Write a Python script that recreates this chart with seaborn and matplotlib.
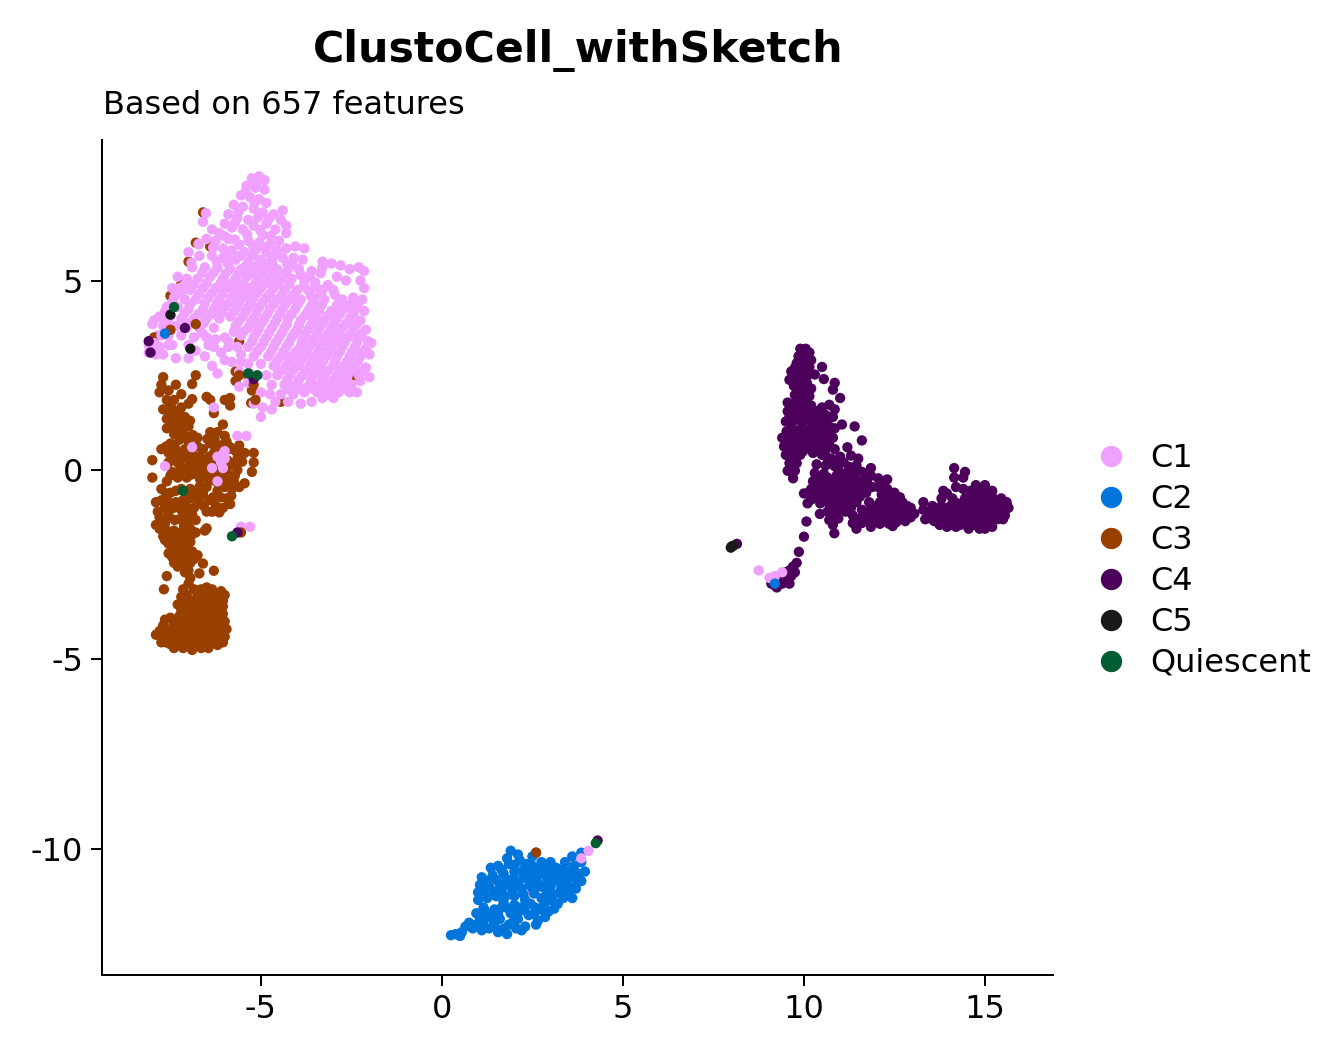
import matplotlib
matplotlib.use("Agg")
import matplotlib.pyplot as plt
import pandas as pd
import seaborn as sns
from matplotlib.lines import Line2D

c3_under = [(-6.6,6.8),(-6.8,6.0),(-7.0,5.5),(-7.2,4.9),(-6.4,5.9),(-5.6,3.4),(-2.4,2.5),(-7.5,4.6)]
c1_low = [(2.5,-11.16)]
c1_main = [
(-5.25,7.7),(-5.05,7.75),(-4.9,7.65),(-5.4,7.5),(-5.15,7.45),(-4.9,7.4),(-5.55,7.25),(-5.3,7.2),(-5.05,7.15),(-4.85,7.05),
(-5.75,7.0),(-5.5,6.95),(-5.2,6.9),(-4.95,6.8),(-4.65,6.75),(-4.4,6.85),(-5.9,6.75),(-5.65,6.65),(-5.35,6.6),(-4.45,6.6),
(-6.0,6.5),(-5.8,6.4),(-5.5,6.35),(-5.2,6.45),(-4.85,6.5),(-4.6,6.35),(-6.35,6.35),(-6.15,6.25),(-4.95,6.2),(-4.3,6.45),(-4.3,6.25),
(-6.5,6.1),(-6.25,6.05),(-5.9,6.1),(-5.6,5.95),(-5.35,6.05),(-5.05,6.0),(-4.75,5.95),(-4.5,6.05),(-6.05,5.85),(-5.8,5.8),(-5.45,5.75),
(-5.15,5.8),(-4.85,5.75),(-4.55,5.8),(-4.3,5.85),(-4.05,5.9),(-3.8,5.85),(-6.7,5.65),(-6.35,5.65),(-6.05,5.6),(-5.7,5.55),(-5.35,5.5),
(-5.0,5.55),(-4.7,5.55),(-4.4,5.6),(-4.1,5.6),(-3.85,5.55),(-3.3,5.5),(-3.05,5.45),(-2.8,5.4),(-2.55,5.3),(-2.3,5.35),(-2.15,5.25),
(-6.9,5.35),(-6.55,5.35),(-6.2,5.35),(-5.85,5.3),(-5.55,5.3),(-5.2,5.3),(-4.85,5.3),(-4.55,5.3),(-4.25,5.3),(-3.95,5.3),(-3.6,5.25),(-3.35,5.2),(-3.3,5.35),
(-7.05,5.05),(-6.75,5.05),(-6.4,5.1),(-6.05,5.05),(-5.7,5.05),(-5.4,5.1),(-5.1,5.05),(-4.75,5.05),(-4.45,5.05),(-4.15,5.05),(-3.8,5.0),(-3.5,4.95),(-2.9,5.1),(-2.65,5.0),(-2.25,5.0),(-2.15,4.8),
(-7.25,4.8),(-6.95,4.75),(-6.6,4.8),(-6.25,4.8),(-5.95,4.8),(-5.6,4.8),(-5.3,4.8),(-5.0,4.8),(-4.65,4.8),(-4.35,4.75),(-4.0,4.75),(-3.7,4.75),(-3.3,4.75),(-3.0,4.75),
(-7.4,4.55),(-7.1,4.5),(-6.8,4.5),(-6.45,4.55),(-6.15,4.5),(-5.8,4.55),(-5.5,4.55),(-5.2,4.55),(-4.85,4.55),(-4.55,4.5),(-4.2,4.5),(-3.9,4.5),(-3.55,4.45),(-3.25,4.5),(-2.75,4.5),(-2.45,4.55),(-2.2,4.5),
(-7.6,4.3),(-7.3,4.3),(-7.0,4.25),(-6.6,4.25),(-6.3,4.25),(-6.0,4.3),(-5.65,4.3),(-5.35,4.3),(-5.05,4.3),(-4.75,4.25),(-4.4,4.25),(-4.05,4.25),(-3.7,4.2),(-3.4,4.2),(-3.05,4.2),(-2.7,4.25),(-2.4,4.25),(-2.15,4.2),
(-7.8,4.05),(-7.5,4.05),(-7.2,4.0),(-6.85,4.0),(-6.5,4.0),(-6.15,4.0),(-5.85,4.05),(-5.5,4.05),(-5.2,4.0),(-4.9,4.0),(-4.55,4.0),(-4.25,4.0),(-3.9,3.95),(-3.55,3.95),(-3.25,3.95),(-2.9,4.0),(-2.55,4.0),(-2.25,3.95),
(-8.0,3.85),(-7.7,3.8),(-7.35,3.8),(-7.05,3.75),(-6.7,3.75),(-6.3,3.75),(-5.7,3.8),(-5.35,3.75),(-5.05,3.75),(-4.7,3.75),(-4.35,3.75),(-4.0,3.7),(-3.7,3.7),(-3.4,3.7),(-3.05,3.75),(-2.75,3.75),(-2.45,3.75),(-2.1,3.7),
(-7.85,3.55),(-7.55,3.55),(-7.2,3.55),(-6.85,3.5),(-6.5,3.5),(-6.0,3.5),(-5.55,3.55),(-5.2,3.5),(-4.85,3.5),(-4.5,3.5),(-4.15,3.5),(-3.85,3.45),(-3.55,3.45),(-3.2,3.5),(-2.9,3.5),(-2.6,3.5),(-2.3,3.5),(-2.05,3.4),
(-8.1,3.3),(-7.8,3.25),(-7.45,3.3),(-6.3,3.25),(-5.9,3.25),(-5.35,3.25),(-5.0,3.25),(-4.65,3.25),(-4.3,3.25),(-3.95,3.2),(-3.7,3.2),(-3.35,3.25),(-3.05,3.25),(-2.75,3.25),(-2.4,3.25),(-2.1,3.2),(-1.95,3.35),
(-8.1,3.1),(-7.7,3.05),(-6.55,3.0),(-5.55,3.05),(-5.2,3.0),(-4.8,3.0),(-4.45,3.0),(-4.15,3.0),(-3.85,2.95),(-3.5,3.0),(-3.2,3.0),(-2.9,3.0),(-2.55,3.0),(-2.25,3.0),(-2.0,3.05),
(-5.8,2.85),(-5.35,2.8),(-5.0,2.8),(-4.65,2.75),(-4.3,2.75),(-4.0,2.75),(-3.65,2.75),(-3.35,2.75),(-3.0,2.75),(-2.7,2.75),(-2.4,2.75),(-2.1,2.7),
(-6.35,2.75),(-6.2,2.55),(-5.6,2.6),(-5.3,2.55),(-4.85,2.5),(-4.55,2.5),(-4.2,2.5),(-3.85,2.5),(-3.55,2.5),(-3.25,2.5),(-2.9,2.5),(-2.6,2.5),(-2.3,2.5),(-2.0,2.45),
(-5.6,2.2),(-5.35,2.3),(-4.7,2.25),(-4.35,2.25),(-4.05,2.25),(-3.7,2.2),(-3.4,2.25),(-3.1,2.25),(-2.75,2.3),(-2.5,2.25),(-2.25,2.35),
(-5.0,2.05),(-4.75,2.0),(-4.45,2.0),(-4.1,2.0),(-3.8,2.05),(-3.45,2.05),(-3.15,2.0),(-2.85,2.05),(-2.55,2.05),(-2.35,2.05),
(-4.6,1.8),(-4.25,1.8),(-3.9,1.75),(-3.6,1.8),(-3.3,1.9),(-3.0,1.9),(-5.2,1.75),(-4.7,1.6),(-6.3,1.65),(-5.0,1.4),(-4.95,1.65),
(-5.4,0.9),(-6.9,0.6),(-6.2,-0.3),(-6.0,0.3),(-5.65,0.9),(-5.3,-1.5)
]
c1_extra = [
(-5.12,7.58),(-5.42,7.35),(-5.18,7.05),(-5.62,6.82),(-5.08,6.67),(-4.78,6.63),(-5.72,6.52),(-5.38,6.22),(-5.02,6.33),(-4.73,6.18),(-6.02,6.18),
(-5.72,6.08),(-5.22,5.92),(-4.92,5.88),(-4.62,5.68),(-5.92,5.7),(-5.58,5.65),(-5.22,5.66),(-4.88,5.45),(-4.28,5.46),(-6.22,5.5),(-5.92,5.45),(-5.42,5.38),(-5.08,5.42),(-4.68,5.42),(-4.12,5.42),
(-6.62,5.2),(-6.3,5.22),(-5.98,5.18),(-5.62,5.18),(-5.28,5.18),(-4.98,5.18),(-4.62,5.18),(-4.32,5.18),(-3.9,5.15),(-3.65,5.12),(-6.85,4.9),(-6.5,4.93),(-6.12,4.92),(-5.82,4.92),(-5.48,4.92),(-5.15,4.92),(-4.88,4.92),(-4.52,4.92),(-4.22,4.9),(-3.82,4.85),(-3.48,4.83),(-3.15,4.88),
(-7.2,4.65),(-6.7,4.65),(-6.35,4.68),(-6.05,4.65),(-5.72,4.68),(-5.4,4.68),(-5.1,4.68),(-4.75,4.65),(-4.42,4.62),(-4.1,4.63),(-3.62,4.6),(-3.35,4.62),(-2.95,4.62),(-2.55,4.35),(-2.32,4.38),
(-7.45,4.42),(-6.95,4.38),(-6.55,4.4),(-6.22,4.38),(-5.88,4.42),(-5.6,4.42),(-5.28,4.42),(-4.95,4.42),(-4.65,4.38),(-4.32,4.38),(-3.98,4.38),(-3.62,4.32),(-3.32,4.35),(-2.9,4.35),
(-7.65,4.18),(-7.12,4.12),(-6.72,4.12),(-6.38,4.12),(-6.08,4.15),(-5.75,4.18),(-5.42,4.18),(-5.12,4.15),(-4.82,4.12),(-4.48,4.12),(-4.15,4.12),(-3.78,4.08),(-3.48,4.08),(-3.15,4.08),(-2.82,4.12),(-2.45,4.12),
(-7.95,3.95),(-7.6,3.92),(-6.98,3.88),(-6.58,3.88),(-5.62,3.92),(-5.28,3.88),(-4.98,3.88),(-4.62,3.88),(-4.28,3.85),(-3.95,3.83),(-3.62,3.83),(-3.32,3.83),(-2.98,3.87),(-2.65,3.87),(-2.35,3.85),
(-7.5,3.67),(-6.62,3.62),(-5.48,3.65),(-5.12,3.62),(-4.78,3.62),(-4.42,3.62),(-4.08,3.6),(-3.78,3.58),(-3.45,3.58),(-3.12,3.62),(-2.82,3.62),(-2.5,3.62),(-2.22,3.6),
(-5.25,3.38),(-4.92,3.38),(-4.58,3.38),(-4.22,3.36),(-3.88,3.33),(-3.6,3.33),(-3.28,3.37),(-2.98,3.38),(-2.68,3.38),(-2.35,3.37),(-5.1,3.13),(-4.72,3.12),(-4.38,3.12),(-4.05,3.1),(-3.75,3.08),(-3.42,3.12),(-3.12,3.12),(-2.82,3.12),(-2.48,3.12),(-2.18,3.12),
(-4.55,2.88),(-4.22,2.88),(-3.92,2.85),(-3.58,2.87),(-3.28,2.87),(-2.95,2.87),(-2.62,2.87),(-2.32,2.87),(-4.45,2.62),(-4.12,2.62),(-3.78,2.62),(-3.45,2.62),(-3.15,2.62),(-2.82,2.62),(-2.5,2.62),(-2.22,2.6),
(-4.28,2.38),(-3.95,2.38),(-3.62,2.36),(-3.3,2.38),(-3.0,2.37),(-2.68,2.4),(-4.22,2.12),(-3.9,2.15),(-3.55,2.14),(-3.25,2.13),(-2.95,2.15),(-2.65,2.15),(-6.72,5.95),(-6.6,6.55),(-7.0,5.75),(-7.3,5.1),(-7.45,4.8),
(-5.75,3.65),(-5.9,3.4),(-6.25,3.45),(-6.1,3.1),(-6.0,2.9),(-6.45,3.3),(-6.8,3.15),(-7.0,2.95),(-5.55,2.85),(-5.65,3.25),
(-6.52,6.78),(-6.72,5.97),(-6.92,5.47),(-7.12,4.87),(-6.32,5.87)
]
c3_main = [
(-7.7,2.45),(-7.75,2.25),(-7.8,2.05),(-7.55,2.1),(-7.35,2.25),(-7.6,1.85),(-7.4,1.85),(-7.2,2.0),(-7.7,1.6),(-7.45,1.6),(-7.2,1.65),(-7.0,1.75),(-7.6,1.35),(-7.35,1.35),(-7.1,1.4),
(-6.9,2.27),(-6.8,2.5),(-6.9,1.87),(-6.5,1.93),(-6.4,1.85),(-6.0,1.85),(-5.85,1.9),(-5.85,1.7),(-5.27,1.77),(-5.25,2.1),(-5.7,2.6),(-5.7,2.35),(-5.35,2.5),(-4.45,1.8),
(-7.6,1.1),(-7.4,0.95),(-7.2,1.05),(-7.0,1.15),(-7.5,0.7),(-7.25,0.8),(-7.0,0.75),(-6.75,0.85),(-6.96,1.3),(-6.3,1.5),(-6.05,1.2),(-6.4,1.0),(-6.2,1.0),(-6.0,0.9),(-6.1,0.65),(-6.4,0.7),(-5.9,0.55),
(-7.75,0.55),(-7.55,0.45),(-7.3,0.45),(-7.1,0.55),(-6.9,0.45),(-6.6,0.55),(-6.3,0.45),(-6.05,0.35),(-5.85,0.6),(-5.6,0.65),(-5.45,0.45),(-5.65,0.3),(-5.2,0.45),(-5.2,0.2),(-5.25,-0.05),
(-8.0,0.26),(-7.55,0.2),(-7.3,0.2),(-7.05,0.3),(-6.8,0.2),(-6.55,0.25),(-6.3,0.15),(-6.05,0.1),(-5.8,0.15),(-7.05,0.05),(-8.0,-0.2),(-7.45,-0.05),(-7.6,-0.3),(-7.3,-0.2),(-7.05,-0.2),(-6.8,-0.1),(-6.55,-0.1),(-6.3,-0.15),(-6.1,-0.2),(-5.85,-0.15),(-5.65,0.0),(-5.45,-0.35),
(-7.75,-0.5),(-7.5,-0.6),(-7.2,-0.5),(-6.95,-0.5),(-6.7,-0.45),(-6.5,-0.45),(-6.2,-0.55),(-6.0,-0.45),(-5.8,-0.5),(-5.6,-0.45),(-5.95,-0.75),(-7.9,-0.85),(-7.75,-0.8),(-7.55,-0.85),(-7.35,-0.85),(-7.15,-0.8),(-6.95,-0.75),(-6.7,-0.7),(-6.45,-0.8),(-6.25,-0.95),(-6.05,-1.0),(-5.85,-0.9),
(-7.85,-1.1),(-7.6,-1.05),(-7.75,-1.3),(-7.9,-1.45),(-7.65,-1.4),(-7.2,-1.05),(-7.05,-1.15),(-6.85,-1.0),(-6.5,-1.1),(-7.25,-1.3),(-7.0,-1.35),(-6.8,-1.32),(-6.5,-1.54),(-6.55,-1.6),(-6.8,-1.65),
(-7.8,-1.55),(-7.7,-1.75),(-7.4,-1.6),(-7.15,-1.6),(-6.95,-1.55),(-7.2,-1.85),(-7.0,-1.75),(-6.95,-1.9),(-7.55,-1.95),(-7.35,-1.95),(-7.1,-2.05),(-7.55,-2.2),(-7.3,-2.2),(-7.1,-2.3),(-6.9,-2.15),(-6.75,-2.25),(-7.4,-2.45),(-7.2,-2.5),(-6.95,-2.45),(-6.6,-2.47),(-6.3,-2.66),(-6.7,-2.73),(-7.6,-2.8),(-7.68,-3.15),(-7.1,-2.7),(-7.0,-2.65),(-6.95,-2.85),
(-7.15,-3.15),(-7.0,-3.0),(-6.85,-3.15),(-6.65,-3.15),(-6.5,-3.1),(-6.35,-3.15),(-6.1,-3.2),(-6.0,-3.3),
(-7.3,-3.55),(-7.2,-3.7),(-6.85,-3.65),(-7.5,-3.9),(-6.9,-3.9),(-6.7,-3.8),(-6.3,-3.85),(-6.5,-3.85),(-6.05,-3.8),(-6.0,-4.0),(-6.2,-4.05),(-6.4,-4.05),(-6.55,-4.15),
(-6.1,-3.95),(-6.1,-3.7),(-7.35,-4.0),(-7.55,-4.25),(-7.7,-4.1),(-7.8,-4.25),(-7.35,-4.2),(-7.15,-4.1),(-6.9,-4.15),(-7.0,-4.35),(-6.7,-4.3),(-6.45,-4.3),(-6.25,-4.25),(-6.05,-4.25),(-5.95,-4.2),(-7.9,-4.35),(-7.65,-4.45),(-7.45,-4.4),(-7.2,-4.4),(-6.85,-4.45),(-6.6,-4.45),(-6.35,-4.45),(-6.15,-4.4),(-6.0,-4.4),
(-7.75,-4.55),(-7.5,-4.6),(-7.3,-4.55),(-7.05,-4.6),(-6.8,-4.6),(-6.55,-4.6),(-6.25,-4.55),(-6.05,-4.55),(-7.4,-4.7),(-7.15,-4.7),(-6.9,-4.75),(-6.65,-4.7),(-6.45,-4.7),(-7.6,-4.25),(-7.0,-4.5),(-6.75,-4.15),(-6.55,-3.95)
]
c3_extra = [
(-7.5,1.72),(-7.3,1.52),(-7.52,1.48),(-7.22,1.25),(-7.45,1.15),(-7.3,1.08),(-7.12,0.92),(-6.88,0.92),(-7.38,0.6),(-7.12,0.42),(-6.98,0.62),(-6.75,0.62),(-6.48,0.82),(-6.28,0.82),(-6.25,0.6),(-5.95,0.75),(-5.7,0.5),(-5.52,0.22),
(-7.62,0.62),(-7.42,0.32),(-7.18,0.32),(-6.92,0.32),(-6.68,0.35),(-6.42,0.35),(-6.18,0.28),(-5.92,0.25),(-5.72,0.12),(-7.22,0.08),(-6.92,0.08),(-6.68,0.08),(-6.42,0.05),(-6.18,0.02),(-5.95,-0.02),(-5.72,-0.15),(-7.5,-0.15),(-7.2,-0.08),(-6.92,-0.12),(-6.68,-0.25),(-6.42,-0.28),(-6.22,-0.32),(-5.98,-0.3),(-5.75,-0.3),
(-7.62,-0.62),(-7.35,-0.55),(-7.08,-0.62),(-6.82,-0.58),(-6.6,-0.62),(-6.32,-0.72),(-6.12,-0.72),(-5.82,-0.68),(-7.65,-0.95),(-7.42,-1.0),(-7.28,-0.98),(-7.08,-0.95),(-6.72,-0.88),(-6.58,-0.95),(-6.35,-1.1),(-6.15,-1.12),
(-7.8,-1.25),(-7.55,-1.2),(-7.38,-1.32),(-7.12,-1.22),(-6.9,-1.18),(-7.6,-1.6),(-7.48,-1.75),(-7.3,-1.75),(-7.12,-1.48),(-6.92,-1.72),(-7.65,-1.85),(-7.42,-2.08),(-7.22,-2.0),(-7.02,-2.1),(-7.45,-2.3),(-7.25,-2.35),(-7.0,-2.25),(-6.85,-2.35),(-7.3,-2.55),(-7.05,-2.55),
(-6.75,-3.3),(-6.55,-3.35),(-6.4,-3.3),(-6.2,-3.35),(-6.05,-3.45),(-6.7,-3.5),(-6.55,-3.55),(-6.38,-3.45),(-6.2,-3.55),(-6.05,-3.6),(-7.1,-3.5),(-7.0,-3.65),(-6.75,-3.65),(-6.55,-3.7),(-6.38,-3.7),(-6.25,-3.7),(-7.25,-3.85),(-7.1,-3.85),(-7.0,-3.95),(-6.8,-3.95),(-6.65,-4.0),(-6.45,-3.95),(-6.25,-3.95),
(-7.65,-3.95),(-7.42,-4.1),(-7.25,-4.05),(-7.05,-4.2),(-6.85,-4.28),(-6.65,-4.15),(-6.5,-4.22),(-6.3,-4.15),(-6.12,-4.15),(-7.65,-4.3),(-7.4,-4.3),(-7.25,-4.28),(-7.1,-4.45),(-6.95,-4.55),(-6.72,-4.45),(-6.5,-4.5),(-6.28,-4.35),(-6.12,-4.52),(-7.62,-4.55),(-7.4,-4.5),(-7.22,-4.62),(-6.95,-4.68),(-6.72,-4.6),(-6.4,-4.55),(-6.2,-4.62),
(-7.05,-3.3),(-6.9,-3.45),(-7.2,-3.35)
]
c4_main = [
(9.9,3.2),(10.05,3.2),(10.15,3.1),(9.85,3.0),(10.05,2.98),(10.2,2.9),(9.8,2.82),(10.0,2.8),(10.15,2.72),(9.65,2.6),(9.8,2.58),(9.98,2.55),(10.1,2.5),(10.3,2.52),(10.5,2.72),(9.6,2.38),(9.8,2.35),(9.95,2.3),(10.55,2.4),(10.85,2.3),
(9.85,2.15),(10.0,2.12),(10.2,2.15),(10.8,2.12),(9.75,1.98),(9.95,1.95),(10.15,1.95),(11.0,1.9),(9.55,1.78),(9.75,1.75),(9.95,1.72),(10.2,1.7),(10.5,1.65),(10.7,1.72),(10.85,1.6),
(9.55,1.55),(9.7,1.5),(9.9,1.48),(10.15,1.5),(10.35,1.55),(10.6,1.45),(10.8,1.4),(9.5,1.28),(9.7,1.28),(9.95,1.25),(10.2,1.28),(10.4,1.3),(10.6,1.25),(11.05,1.2),(11.4,1.15),(9.65,1.08),(9.85,1.05),(10.1,1.05),(10.3,1.05),(10.55,1.02),(10.85,1.1),
(9.4,0.85),(9.6,0.85),(9.8,0.82),(10.05,0.85),(10.3,0.82),(10.55,0.78),(10.8,0.85),(11.6,0.78),(9.45,0.62),(9.65,0.6),(9.85,0.62),(10.1,0.6),(10.35,0.6),(10.6,0.55),(10.85,0.55),(11.2,0.6),(9.5,0.4),(9.7,0.4),(9.9,0.4),(10.5,0.4),(10.75,0.3),(11.0,0.35),(11.3,0.38),(11.5,0.3),
(9.6,0.18),(9.8,0.18),(10.35,0.15),(10.6,0.12),(10.85,0.1),(11.1,0.2),(11.85,0.05),(9.55,-0.02),(9.75,-0.02),(10.3,-0.08),(10.55,-0.1),(11.1,-0.1),(11.4,-0.12),(11.6,-0.05),(11.85,-0.15),(12.05,-0.22),(9.7,-0.22),(10.25,-0.3),(10.5,-0.32),(10.75,-0.3),(11.0,-0.28),(11.25,-0.25),(11.5,-0.3),(11.75,-0.35),(12.3,-0.25),
(10.2,-0.5),(10.4,-0.5),(10.65,-0.5),(10.9,-0.48),(11.15,-0.45),(11.4,-0.5),(11.65,-0.5),(12.05,-0.45),(12.3,-0.5),(10.0,-0.62),(10.3,-0.7),(10.55,-0.7),(10.8,-0.7),(11.05,-0.68),(11.3,-0.68),(11.55,-0.7),(12.15,-0.65),(12.4,-0.7),(12.65,-0.72),
(10.1,-0.88),(10.45,-0.88),(10.7,-0.9),(10.95,-0.9),(11.2,-0.9),(11.45,-0.85),(11.8,-0.85),(12.1,-0.85),(12.35,-0.88),(12.6,-0.88),(12.85,-0.95),(10.65,-1.1),(10.9,-1.1),(11.15,-1.1),(11.6,-1.05),(11.85,-1.02),(12.1,-1.05),(12.35,-1.08),(12.6,-1.08),(12.95,-1.0),(13.3,-0.85),(13.05,-1.15),
(10.75,-1.25),(10.95,-1.28),(11.35,-1.2),(11.6,-1.25),(11.9,-1.25),(12.15,-1.28),(12.4,-1.28),(12.7,-1.28),(12.95,-1.25),(10.8,-1.45),(11.35,-1.4),(11.6,-1.4),(11.85,-1.4),(12.1,-1.42),(12.35,-1.42),(11.45,-1.55),(11.85,-1.5),(12.45,-1.48),(10.7,-1.32),(12.8,-1.35),
(14.15,0.05),(14.15,-0.2),(14.4,-0.2),(14.45,-0.05),(14.2,-0.45),(14.4,-0.5),(14.75,-0.4),(15.0,-0.4),(14.9,-0.6),(15.2,-0.55),(13.8,-0.75),(13.85,-0.55),(14.1,-0.75),(14.45,-0.75),(14.7,-0.75),(14.95,-0.7),(15.2,-0.7),(15.45,-0.75),(15.6,-0.85),(13.55,-0.95),(13.8,-0.95),(14.05,-0.95),(14.3,-1.0),(14.55,-0.95),(14.8,-0.95),(15.05,-0.9),(15.4,-0.95),(15.65,-1.0),
(13.3,-1.05),(13.5,-1.15),(13.75,-1.15),(14.0,-1.2),(14.25,-1.2),(14.55,-1.15),(14.8,-1.15),(15.05,-1.15),(15.3,-1.1),(15.5,-1.1),(13.35,-1.3),(13.6,-1.35),(13.85,-1.35),(14.1,-1.4),(14.4,-1.35),(14.65,-1.35),(14.9,-1.35),(15.1,-1.3),(15.35,-1.3),(15.5,-1.3),(13.95,-1.5),(14.2,-1.5),(14.55,-1.55),(14.85,-1.55),(15.0,-1.55),(15.2,-1.5),(15.55,-1.2),
(9.86,-2.16),(9.8,-2.45),(9.7,-2.55),(9.75,-2.7),(9.6,-2.65),(9.5,-2.7),(9.4,-2.8),(9.55,-2.85),(9.6,-3.0),(9.35,-2.9),(9.3,-2.95),(9.2,-3.05),(9.1,-3.0),(9.25,-3.1),
(10.07,-1.36),(10.44,-1.16),(10.84,-1.67),(10.0,-1.76)
]
c4_extra = [
(9.95,3.08),(9.75,2.7),(9.9,2.68),(10.02,2.65),(9.72,2.45),(9.88,2.42),(10.08,2.3),(9.72,2.22),(9.92,2.18),(10.08,2.05),(9.85,1.85),(10.05,1.82),(9.65,1.65),(9.82,1.6),(10.05,1.6),(10.3,1.42),(10.5,1.42),(9.6,1.4),(9.8,1.38),(10.02,1.35),(10.25,1.18),(10.45,1.15),(10.7,1.15),
(9.52,1.02),(9.75,0.95),(9.95,0.95),(10.18,0.95),(10.42,0.92),(10.65,0.92),(9.5,0.75),(9.72,0.72),(9.92,0.75),(10.18,0.72),(10.45,0.68),(10.7,0.65),(9.58,0.5),(9.78,0.5),(9.98,0.5),(10.25,0.45),(10.62,0.35),(10.9,0.22),
(11.25,0.08),(11.45,0.12),(10.95,0.0),(11.22,-0.15),(11.72,-0.2),(10.65,-0.2),(10.9,-0.15),(10.42,-0.2),(11.35,-0.38),(11.1,-0.38),(10.85,-0.4),(10.6,-0.4),(10.35,-0.4),(11.6,-0.4),(11.88,-0.45),(12.18,-0.38),
(10.12,-0.6),(10.42,-0.6),(10.68,-0.6),(10.95,-0.58),(11.22,-0.58),(11.48,-0.6),(11.72,-0.6),(12.25,-0.58),(12.5,-0.6),(10.2,-0.78),(10.45,-0.78),(10.7,-0.8),(10.92,-0.8),(11.18,-0.78),(11.42,-0.78),(12.25,-0.78),(12.48,-0.8),(12.72,-0.85),(10.78,-1.0),(11.05,-1.0),(11.3,-1.0),(12.0,-0.95),(12.25,-0.97),(12.48,-0.98),(12.75,-1.02),
(11.75,-1.15),(12.0,-1.15),(12.25,-1.18),(12.5,-1.18),(12.78,-1.18),(11.48,-1.3),(11.72,-1.32),(12.0,-1.33),(12.25,-1.35),(12.55,-1.38),
(13.95,-0.62),(14.6,-0.55),(14.8,-0.55),(15.05,-0.55),(14.25,-0.88),(14.5,-0.85),(14.68,-0.88),(14.92,-0.85),(15.15,-0.82),(15.3,-0.85),(15.5,-0.88),(13.62,-1.05),(13.88,-1.05),(14.12,-1.08),(14.4,-1.1),(14.68,-1.05),(14.92,-1.05),(15.18,-1.0),(15.42,-1.02),
(13.5,-1.28),(13.72,-1.25),(13.95,-1.3),(14.22,-1.3),(14.52,-1.28),(14.78,-1.28),(15.0,-1.22),(15.22,-1.22),(15.42,-1.2),(13.75,-1.45),(14.05,-1.45),(14.32,-1.45),(14.72,-1.45),(14.95,-1.45),(15.1,-1.42),(9.65,-2.8),(9.45,-2.92),(9.4,-3.0)
]
c2_main = [
(0.25,-12.28),(0.38,-12.25),(0.5,-12.3),(0.55,-12.2),(0.65,-12.05),(0.75,-11.95),(0.85,-12.1),(0.95,-11.7),(0.95,-12.0),(1.1,-12.15),(1.15,-11.9),(1.2,-11.65),(1.3,-12.1),(1.4,-11.85),(1.45,-11.6),(1.55,-12.15),(1.6,-11.85),(1.65,-11.55),(1.8,-12.25),(1.85,-12.0),
(1.9,-11.7),(2.05,-12.1),(2.1,-11.85),(2.15,-11.55),(2.3,-12.05),(2.4,-11.75),(2.45,-11.45),(2.65,-11.9),(2.7,-11.6),(2.75,-11.3),(2.95,-11.65),(3.0,-11.35),(3.2,-11.45),(3.25,-11.15),(3.5,-11.2),(3.45,-10.9),(3.7,-11.05),(3.85,-10.85),(3.95,-10.6),(3.75,-10.65),
(1.0,-11.35),(1.25,-11.3),(1.5,-11.25),(1.75,-11.25),(2.0,-11.25),(2.25,-11.2),(2.5,-11.05),(2.75,-11.0),(3.0,-11.0),(3.2,-10.85),(3.45,-10.6),(3.65,-10.45),(3.85,-10.35),(1.05,-10.95),(1.3,-11.0),(1.6,-10.95),(1.85,-10.95),(2.1,-10.9),(2.35,-10.8),(2.6,-10.75),(2.85,-10.7),(3.05,-10.6),(3.3,-10.55),(3.6,-10.2),(3.85,-10.1),
(1.0,-11.15),(1.1,-10.75),(1.4,-10.7),(1.7,-10.65),(2.0,-10.6),(2.25,-10.55),(2.5,-10.45),(2.75,-10.35),(1.35,-10.5),(1.85,-10.4),(2.15,-10.3),(2.5,-10.2),(1.65,-10.55),(1.8,-10.25),(1.9,-10.05),(2.1,-10.15),(2.6,-10.1),(1.15,-11.55),(1.7,-11.4),(2.3,-11.35),(2.9,-11.15),(3.0,-10.35),(3.4,-10.35),(3.15,-10.5),(3.6,-10.75),(2.6,-12.0),(1.55,-12.2),(2.2,-12.15),
(2.55,-11.18),(1.05,-11.85),(1.3,-11.75),(1.55,-11.72),(1.78,-11.55),(2.0,-11.48),(2.28,-11.62),(2.58,-11.55),(2.82,-11.48),(3.08,-11.22),(3.3,-11.02),(3.55,-11.02),(1.15,-11.12),(1.42,-11.12),(1.65,-11.1),(1.95,-11.08),(2.2,-11.05),(2.42,-10.95),(2.65,-10.9),(2.92,-10.85),(3.12,-10.75),(3.35,-10.72),(3.55,-10.58),(3.75,-10.85),
(1.25,-10.85),(1.5,-10.82),(1.78,-10.8),(1.98,-10.78),(2.25,-10.7),(2.48,-10.62),(2.72,-10.55),(2.92,-10.5),(3.2,-10.68),(1.55,-10.45),(2.0,-10.42),(2.35,-10.4),(2.1,-11.68),(1.95,-11.95),(2.55,-11.72),(1.72,-12.1),(1.45,-12.0),(2.85,-11.8),(3.1,-11.58),(3.35,-11.3),(3.6,-11.3)
]
c1_top = [(-7.75,3.55),(-7.95,3.35),(-7.9,3.05),(-7.55,3.3),(-7.0,3.3),(-7.35,2.95),(-7.65,0.1),(-6.2,0.35),(-6.1,0.2),(-6.35,0.05),(-6.05,0.05),(-5.55,-1.5),(-6.0,0.5)]
c3_top = [(-6.8,3.85),(-7.5,3.7),(-7.95,3.5),(-5.6,2.5),(-5.2,2.25),(-5.15,1.85)]
c4_top = [(-7.1,3.75),(-8.1,3.4),(-8.05,3.1),(-5.2,2.4),(-5.65,-1.65),(4.3,-9.78),(8.15,-1.95)]
c5_top = [(-6.95,3.2),(-7.5,4.1),(7.98,-2.05),(8.0,-2.02),(8.05,-2.0)]
q_top = [(-5.35,2.55),(-5.1,2.5),(-7.15,-0.55),(-5.8,-1.75),(-7.4,4.3),(4.25,-9.85)]
c2_top = [(-7.65,3.6),(9.2,-3.0)]
c1_edge = [(8.75,-2.65),(9.05,-2.85),(9.2,-2.8),(9.4,-2.7),(3.85,-10.25),(4.05,-10.05)]
c3_edge = [(2.6,-10.1),(-5.55,-1.65)]

hue_order = ["C1", "C2", "C3", "C4", "C5", "Quiescent"]
colors = ["#F0A0FF", "#0075DC", "#993F00", "#4C005C", "#191919", "#005C31"]
groups = [("C3", c3_under), ("C1", c1_low), ("C2", c2_main), ("C3", c3_main), ("C3", c3_extra),
          ("C4", c4_main), ("C4", c4_extra), ("C1", c1_main), ("C1", c1_extra),
          ("C3", c3_top), ("C1", c1_top), ("C1", c1_edge), ("C3", c3_edge), ("C2", c2_top),
          ("C4", c4_top), ("C5", c5_top), ("Quiescent", q_top)]
df = pd.DataFrame([(x, y, g) for g, pts in groups for x, y in pts], columns=["UMAP1", "UMAP2", "cluster"])

sns.set_theme(style="ticks")
plt.rcParams["font.family"] = ["DejaVu Sans"]
fig = plt.figure(figsize=(7, 5.5), dpi=192)
ax = fig.add_axes([102/1344, 1 - 975/1056, (1053 - 102)/1344, (975 - 140)/1056])
sns.scatterplot(data=df, x="UMAP1", y="UMAP2", hue="cluster", hue_order=hue_order,
                palette=dict(zip(hue_order, colors)), s=15, linewidth=0, ax=ax, legend=False)
ax.set_xlim(-9.39, 16.88)
ax.set_ylim(-13.33, 8.71)
ax.set_xticks([-5, 0, 5, 10, 15])
ax.set_yticks([-10, -5, 0, 5])
ax.set_xticklabels(["-5", "0", "5", "10", "15"])
ax.set_yticklabels(["-10", "-5", "0", "5"])
ax.set_xlabel("")
ax.set_ylabel("")
ax.tick_params(labelsize=12, length=4, width=0.75, color="black", labelcolor="black", pad=3)
sns.despine(ax=ax)
for s in ["left", "bottom"]:
    ax.spines[s].set_linewidth(0.75)
    ax.spines[s].set_color("black")
fig.text(578/1344, 1 - 51/1056, "ClustoCell_withSketch", ha="center", va="center", fontsize=16, fontweight="bold", color="black")
fig.text(103/1344, 1 - 106/1056, "Based on 657 features", ha="left", va="center", fontsize=12, color="black")
handles = [Line2D([], [], marker="o", linestyle="", markersize=8, markeredgewidth=0, color=c, label=n)
           for n, c in zip(hue_order, colors)]
fig.legend(handles=handles, loc="center left", bbox_to_anchor=(1079/1344, 1 - 561/1056), frameon=False,
           fontsize=12, labelspacing=0.31, handletextpad=0.24, borderpad=0, borderaxespad=0,
           handlelength=2, labelcolor="black")
fig.savefig("out.png", dpi=192)
